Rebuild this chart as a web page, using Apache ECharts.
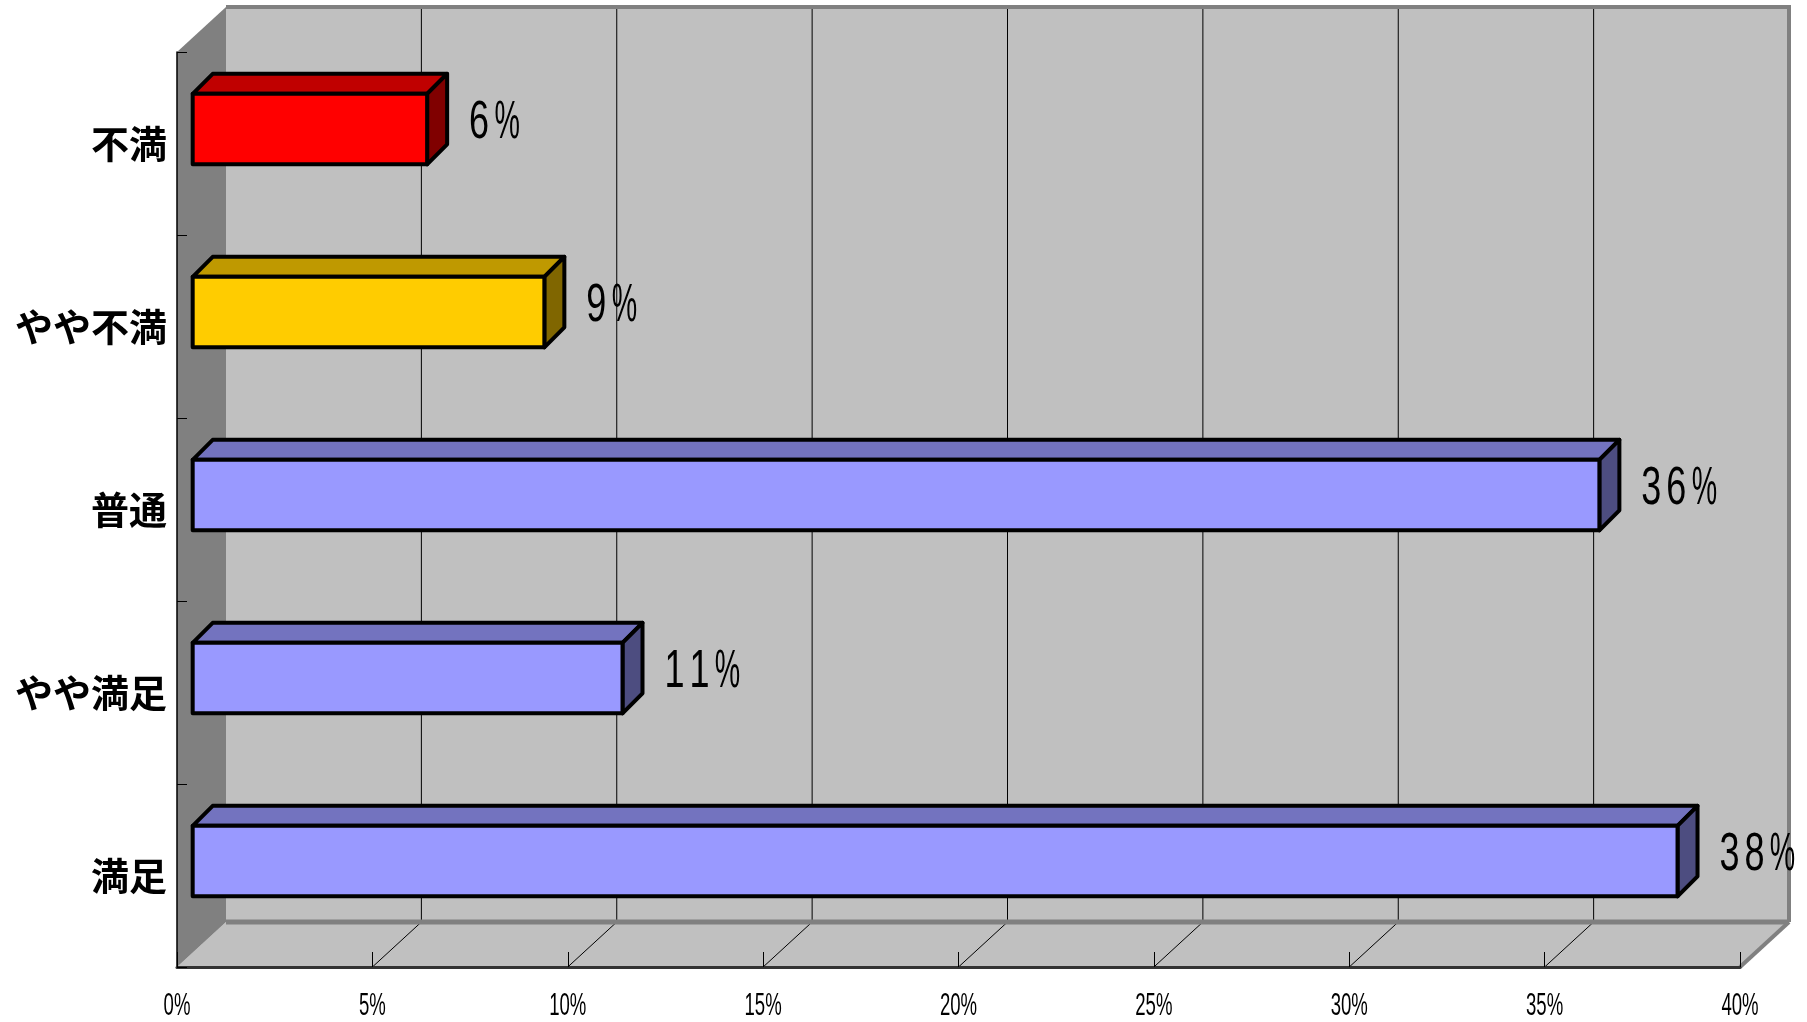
<!DOCTYPE html>
<html>
<head>
<meta charset="utf-8">
<title>満足度</title>
<script src="https://cdn.jsdelivr.net/npm/echarts@6/dist/echarts.min.js"></script>
<style>
  html, body { margin: 0; padding: 0; background: #fff; }
  #chart { width: 1807px; height: 1022px; }
</style>
</head>
<body>
<div id="chart"></div>
<script>
// Satisfaction survey: share of answers per rating
const categories = ['不満', 'やや不満', '普通', 'やや満足', '満足'];
const shares = [6, 9, 36, 11, 38];
const xTicks = [0, 5, 10, 15, 20, 25, 30, 35, 40];

// Face colours of the 3D bars (front / top / side), one per rating
const faceFront = ['#FF0000', '#FFCC00', '#9999FF', '#9999FF', '#9999FF'];
const faceTop   = ['#C00000', '#BF9900', '#7373BF', '#7373BF', '#7373BF'];
const faceSide  = ['#800000', '#806600', '#4D4D80', '#4D4D80', '#4D4D80'];

// Oblique projection of the chart box: offset of the back plane
const DEPTH_X = 49;
const DEPTH_Y = -45;
// Bars stand a little behind the front plane and have their own depth
const BAR_SHIFT = 0.32;
const BAR_DEPTH_X = 20;
const BAR_DEPTH_Y = -20;
const BAR_FILL = 0.385;

const NARROW = 'Liberation Sans, Arial, sans-serif';
// value labels are set in fixed-width cells of tall, narrow glyphs
const LABEL_CELL = 25;

function renderWalls(params, api) {
  const cs = params.coordSys;
  const L = cs.x, T = cs.y, R = cs.x + cs.width, B = cs.y + cs.height;
  const dx = DEPTH_X, dy = DEPTH_Y;
  const kids = [];
  // back wall
  kids.push({ type: 'rect', shape: { x: L + dx, y: T + dy, width: cs.width, height: cs.height },
              style: { fill: '#C0C0C0' } });
  // floor
  kids.push({ type: 'polygon', shape: { points: [[L, B], [L + dx, B + dy], [R + dx, B + dy], [R, B]] },
              style: { fill: '#C0C0C0' } });
  // side wall
  kids.push({ type: 'polygon', shape: { points: [[L, T], [L + dx, T + dy], [L + dx, B + dy], [L, B]] },
              style: { fill: '#808080' } });
  // gridlines on back wall and floor
  xTicks.slice(1, -1).forEach(function (v) {
    const x = api.coord([v, 0])[0];
    kids.push({ type: 'line', shape: { x1: x + dx, y1: T + dy, x2: x + dx, y2: B + dy },
                style: { stroke: '#000', lineWidth: 1 } });
    kids.push({ type: 'line', shape: { x1: x, y1: B, x2: x + dx, y2: B + dy },
                style: { stroke: '#000', lineWidth: 1 } });
  });
  // wall edges
  kids.push({ type: 'line', shape: { x1: L + dx, y1: B + dy, x2: R + dx, y2: B + dy },
              style: { stroke: '#808080', lineWidth: 5 } });
  kids.push({ type: 'line', shape: { x1: L + dx, y1: T + dy, x2: R + dx + 2, y2: T + dy },
              style: { stroke: '#808080', lineWidth: 4 } });
  kids.push({ type: 'line', shape: { x1: R + dx, y1: T + dy, x2: R + dx, y2: B + dy },
              style: { stroke: '#808080', lineWidth: 4 } });
  kids.push({ type: 'line', shape: { x1: R + dx, y1: B + dy, x2: R, y2: B },
              style: { stroke: '#808080', lineWidth: 4 } });
  return { type: 'group', children: kids };
}

function valueLabel(text, left, midY) {
  return text.split('').map(function (ch, i) {
    const pct = ch === '%';
    return {
      type: 'text', x: left + i * LABEL_CELL + (pct ? 13 : 10), y: midY,
      scaleX: pct ? 0.54 : 0.68,
      style: { text: ch, x: 0, y: 0, fill: '#000', font: '53px ' + NARROW,
               textAlign: 'center', textVerticalAlign: 'middle' }
    };
  });
}

function renderBar(params, api) {
  const v = api.value(0), c = api.value(1);
  const p0 = api.coord([0, c]);
  const p1 = api.coord([v, c]);
  const band = api.size([0, 1])[1];
  const h = band * BAR_FILL;
  const bx = DEPTH_X * BAR_SHIFT, by = DEPTH_Y * BAR_SHIFT;
  const x0 = p0[0] + bx, x1 = p1[0] + bx;
  const yc = p0[1] + by;
  const y0 = yc - h / 2, y1 = yc + h / 2;
  const dx = BAR_DEPTH_X, dy = BAR_DEPTH_Y;
  const edge = { stroke: '#000', lineWidth: 4, lineJoin: 'round' };
  return {
    type: 'group',
    children: [
      { type: 'polygon', shape: { points: [[x0, y0], [x0 + dx, y0 + dy], [x1 + dx, y0 + dy], [x1, y0]] },
        style: Object.assign({ fill: faceTop[c] }, edge) },
      { type: 'polygon', shape: { points: [[x1, y0], [x1 + dx, y0 + dy], [x1 + dx, y1 + dy], [x1, y1]] },
        style: Object.assign({ fill: faceSide[c] }, edge) },
      { type: 'rect', shape: { x: x0, y: y0, width: x1 - x0, height: y1 - y0 },
        style: Object.assign({ fill: faceFront[c] }, edge) }
    ].concat(valueLabel(v + '%', x1 + 42, yc - 6))
  };
}

function renderTickLabel(params, api) {
  const v = api.value(0);
  const cs = params.coordSys;
  const x = api.coord([v, 0])[0];
  return {
    type: 'text', x: x, y: cs.y + cs.height + 39, scaleX: 0.6,
    style: { text: v + '%', x: 0, y: 0, fill: '#000', font: '31px ' + NARROW,
             textAlign: 'center', textVerticalAlign: 'middle' }
  };
}

const chart = echarts.init(document.getElementById('chart'));
chart.setOption({
  backgroundColor: '#fff',
  animation: false,
  grid: { left: 177, top: 52, width: 1563, height: 915, outerBoundsMode: 'none', containLabel: false },
  xAxis: {
    type: 'value', min: 0, max: 40, interval: 5, z: 10,
    axisLabel: { show: false },
    axisTick: { show: true, inside: true, length: 15, lineStyle: { color: '#000', width: 1 } },
    axisLine: { show: true, lineStyle: { color: '#333', width: 3 } },
    splitLine: { show: false }
  },
  yAxis: {
    type: 'category', data: categories, inverse: true, z: 10,
    axisLine: { show: true, lineStyle: { color: '#000', width: 1.5 } },
    axisTick: { show: true, inside: true, length: 10, lineStyle: { color: '#000', width: 1 } },
    axisLabel: { fontSize: 38, fontWeight: 'bold', color: '#000', margin: 10,
                 fontFamily: 'Noto Sans CJK JP', padding: [6, 0, 0, 0] },
    splitLine: { show: false }
  },
  series: [
    { type: 'custom', name: 'walls', renderItem: renderWalls, data: [[0, 0]], z: 1, silent: true, clip: false },
    { type: 'custom', name: '割合', renderItem: renderBar, z: 3, clip: false,
      encode: { x: 0, y: 1 },
      data: shares.map(function (v, i) { return [v, i]; }) },
    { type: 'custom', name: 'ticks', renderItem: renderTickLabel, z: 3, clip: false, silent: true,
      encode: { x: 0 },
      data: xTicks.map(function (v) { return [v, 0]; }) }
  ]
});
</script>
</body>
</html>
